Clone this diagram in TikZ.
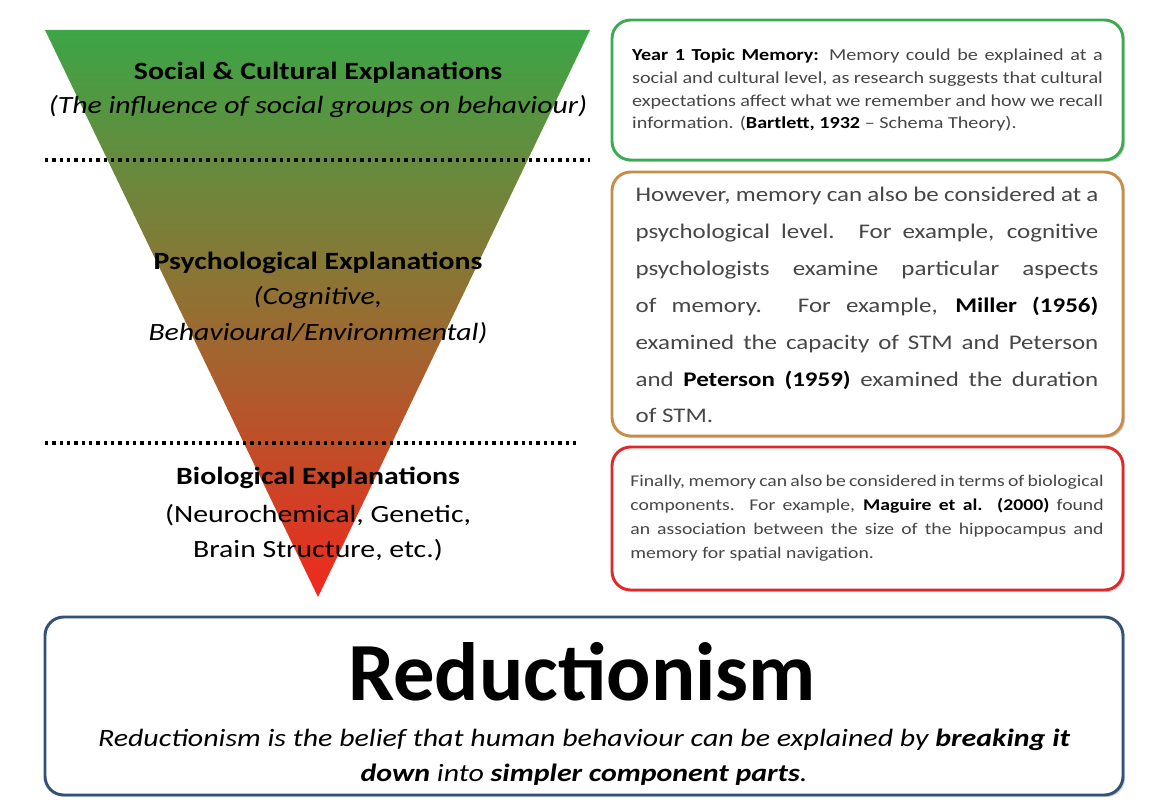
\documentclass[tikz,border=0pt]{standalone}
\usepackage{fontspec}
\setmainfont{Carlito}[FakeStretch=1.2]
\newfontfamily\plainfont{Carlito}
\usetikzlibrary{shadows}
\definecolor{tgreen}{RGB}{60,165,70}
\definecolor{tred}{RGB}{240,40,30}
\definecolor{bgreen}{RGB}{60,170,80}
\definecolor{borange}{RGB}{200,140,70}
\definecolor{bred}{RGB}{225,40,40}
\definecolor{bblue}{RGB}{50,80,120}
\definecolor{txt}{RGB}{70,70,70}
\hyphenpenalty=10000 \exhyphenpenalty=10000 \emergencystretch=20pt
\begin{document}
\begin{tikzpicture}[x=0.75pt,y=-0.75pt,
  rbox/.style={line width=2.2pt,rounded corners=14pt,fill=white,drop shadow={shadow xshift=1.5pt,shadow yshift=-1.5pt,opacity=0.35}},
  head/.style={font=\fontsize{18.6}{22}\selectfont\bfseries,text=black},
  sub/.style={font=\fontsize{18.6}{22}\selectfont,text=black},
  subi/.style={font=\fontsize{18.6}{22}\selectfont\itshape,text=black},
  btext/.style={text=txt,align=justify},
  dots/.style={line width=2.5pt,dash pattern=on 2.5pt off 3pt}]
\useasboundingbox (0,0) rectangle (1163,806);
\shade[top color=tgreen,bottom color=tred,middle color={rgb,255:red,150;green,110;blue,50}] (45,30) -- (590,30) -- (318,597) -- cycle;
\draw[dots] (45,160) -- (590,160);
\draw[dots] (45,443) -- (580,443);
\node[head] (h1) at (318,73) {Social \& Cultural Explanations};
\node[subi] (s1) at (318,107) {(The influence of social groups on behaviour)};
\node[head] (h2) at (318,263) {Psychological Explanations};
\node[subi] (s2) at (318,298) {(Cognitive,};
\node[subi] (s3) at (318,333) {Behavioural/Environmental)};
\node[head] (h3) at (318,478) {Biological Explanations};
\node[sub] (s4) at (318,515) {(Neurochemical, Genetic,};
\node[sub] (s5) at (318,550) {Brain Structure, etc.)};
\draw[rbox,draw=bgreen] (612,20) rectangle (1123,160);
\node[btext,text width=353pt,font=\fontsize{12.6}{17.2}\selectfont] (t1) at (867.5,90) {\textbf{\color{black}Year 1 Topic Memory:} Memory could be explained at a social and cultural level, as research suggests that cultural expectations affect what we remember and how we recall information. (\textbf{\color{black}Bartlett, 1932} -- Schema Theory).};
\draw[rbox,draw=borange] (612,172) rectangle (1123,436);
\node[btext,text width=347pt,font=\fontsize{15.6}{27.7}\selectfont] (t2) at (867,305) {However, memory can also be considered at a psychological level. For example, cognitive psychologists examine particular aspects of memory. For example, \textbf{\color{black}Miller (1956)} examined the capacity of STM and Peterson and \textbf{\color{black}Peterson (1959)} examined the duration of STM.};
\draw[rbox,draw=bred] (612,447) rectangle (1123,590);
\node[btext,text width=355pt,font=\fontsize{12.3}{18}\selectfont] (t3) at (867,518) {Finally, memory can also be considered in terms of biological components. For example, \textbf{\color{black}Maguire et al. (2000)} found an association between the size of the hippocampus and memory for spatial navigation.};
\draw[rbox,draw=bblue] (45,617) rectangle (1123,795);
\node[font=\fontsize{62}{64}\selectfont\plainfont\bfseries] (r) at (582,672) {Reductionism};
\node[align=center,font=\fontsize{18.7}{26}\selectfont\itshape] (rd) at (584,757) {Reductionism is the belief that human behaviour can be explained by \textbf{breaking it}\\\textbf{down} into \textbf{simpler component parts}.};
\end{tikzpicture}
\end{document}
